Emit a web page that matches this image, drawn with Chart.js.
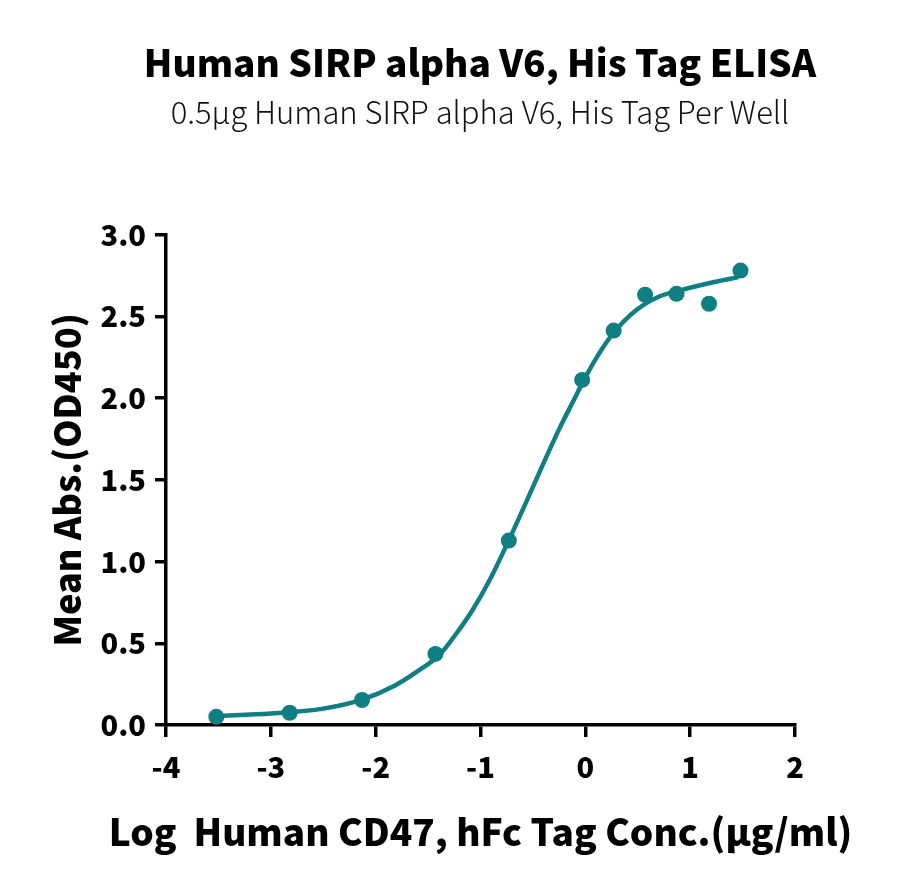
<!DOCTYPE html>
<html>
<head>
<meta charset="utf-8">
<script src="https://cdn.jsdelivr.net/npm/chart.js@4.4.0/dist/chart.umd.min.js"></script>
<style>
  html, body { margin: 0; padding: 0; background: #fff; }
  #wrap { width: 900px; height: 888px; }
</style>
</head>
<body>
<div id="wrap"><canvas id="elisaChart" width="900" height="888"></canvas></div>
<script>
// measured points: log conc (µg/ml) vs mean OD450
const logConc = [-3.52, -2.82, -2.13, -1.43, -0.73, -0.03, 0.27, 0.57, 0.87, 1.18, 1.48];
const meanAbs = [0.05, 0.075, 0.153, 0.435, 1.128, 2.111, 2.413, 2.632, 2.638, 2.577, 2.78];

// fitted curve
const fitX = [-3.52, -3.0, -2.5, -2.13, -1.82, -1.62, -1.39, -1.23, -1.07, -0.91, -0.73, -0.56, -0.40, -0.25, -0.10, -0.03, 0.10, 0.27, 0.49, 0.70, 0.91, 1.23, 1.46];
const fitY = [0.055, 0.07, 0.10, 0.155, 0.24, 0.32, 0.43, 0.56, 0.71, 0.89, 1.13, 1.37, 1.60, 1.81, 2.00, 2.09, 2.24, 2.40, 2.54, 2.62, 2.66, 2.71, 2.74];

const xTicks = [-4, -3, -2, -1, 0, 1, 2];
const yTicks = [0, 0.5, 1.0, 1.5, 2.0, 2.5, 3.0];

const xTitle = 'Log  Human CD47, hFc Tag Conc.(µg/ml)';

const teal = '#0f7f84';
const fontFam = "'Noto Sans CJK SC', 'Noto Sans', sans-serif";

const points = logConc.map((x, i) => ({ x: x, y: meanAbs[i] }));
const curve = fitX.map((x, i) => ({ x: x, y: fitY[i] }));

// x axis title drawn by hand so it is not squeezed to the plot width
const xTitlePlugin = {
  id: 'xTitle',
  afterDraw(chart) {
    const { ctx, chartArea } = chart;
    ctx.save();
    ctx.font = "900 37px " + fontFam;
    ctx.fillStyle = '#000';
    ctx.textAlign = 'center';
    ctx.textBaseline = 'middle';
    ctx.fillText(xTitle, (chartArea.left + chartArea.right) / 2, 832);
    ctx.restore();
  }
};

const ctx = document.getElementById('elisaChart').getContext('2d');
new Chart(ctx, {
  type: 'scatter',
  data: {
    datasets: [
      {
        label: 'fit',
        data: curve,
        showLine: true,
        borderColor: teal,
        borderWidth: 4.5,
        pointRadius: 0,
        cubicInterpolationMode: 'monotone',
        fill: false
      },
      {
        label: 'mean',
        data: points,
        backgroundColor: teal,
        borderColor: teal,
        pointRadius: 8,
        pointBorderWidth: 0
      }
    ]
  },
  plugins: [xTitlePlugin],
  options: {
    responsive: false,
    animation: false,
    devicePixelRatio: 1,
    layout: { padding: { left: 60, right: 0, top: 0, bottom: 0 } },
    plugins: {
      legend: { display: false },
      tooltip: { enabled: false },
      title: {
        display: true,
        text: 'Human SIRP alpha V6, His Tag ELISA',
        color: '#000',
        font: { family: fontFam, size: 37, weight: '900', lineHeight: 1.2 },
        padding: { top: 41, bottom: 0 }
      },
      subtitle: {
        display: true,
        text: '0.5µg Human SIRP alpha V6, His Tag Per Well',
        color: '#111',
        font: { family: fontFam, size: 31, weight: '300', lineHeight: 1.2 },
        padding: { top: 8, bottom: 104 }
      }
    },
    scales: {
      x: {
        type: 'linear',
        min: -4,
        max: 2,
        afterBuildTicks: (scale) => { scale.ticks = xTicks.map(v => ({ value: v })); },
        afterFit: (scale) => { scale.height = 163; },
        border: { display: true, color: '#000', width: 3.5 },
        grid: { drawOnChartArea: false, drawTicks: true, tickLength: 12, color: '#000', lineWidth: 3.5 },
        ticks: {
          color: '#000',
          padding: 13,
          font: { family: fontFam, size: 29, weight: '900' },
          callback: (v) => String(v)
        }
      },
      y: {
        type: 'linear',
        min: 0,
        max: 3,
        afterBuildTicks: (scale) => { scale.ticks = yTicks.map(v => ({ value: v })); },
        afterFit: (scale) => { scale.width = 106; },
        border: { display: true, color: '#000', width: 3.5 },
        grid: { drawOnChartArea: false, drawTicks: true, tickLength: 11, color: '#000', lineWidth: 3.5 },
        ticks: {
          color: '#000',
          padding: 9,
          font: { family: fontFam, size: 29, weight: '900' },
          callback: (v) => Number(v).toFixed(1)
        },
        title: {
          display: true,
          text: 'Mean Abs.(OD450)',
          color: '#000',
          font: { family: fontFam, size: 36, weight: '900', lineHeight: 1.2 },
          padding: { top: -14, bottom: 0 }
        }
      },
      // empty right-hand axis only to keep the plot narrower, like the original
      yRight: {
        type: 'linear',
        position: 'right',
        display: true,
        afterFit: (scale) => { scale.width = 105; },
        border: { display: false },
        grid: { display: false },
        ticks: { display: false }
      }
    }
  }
});
</script>
</body>
</html>
